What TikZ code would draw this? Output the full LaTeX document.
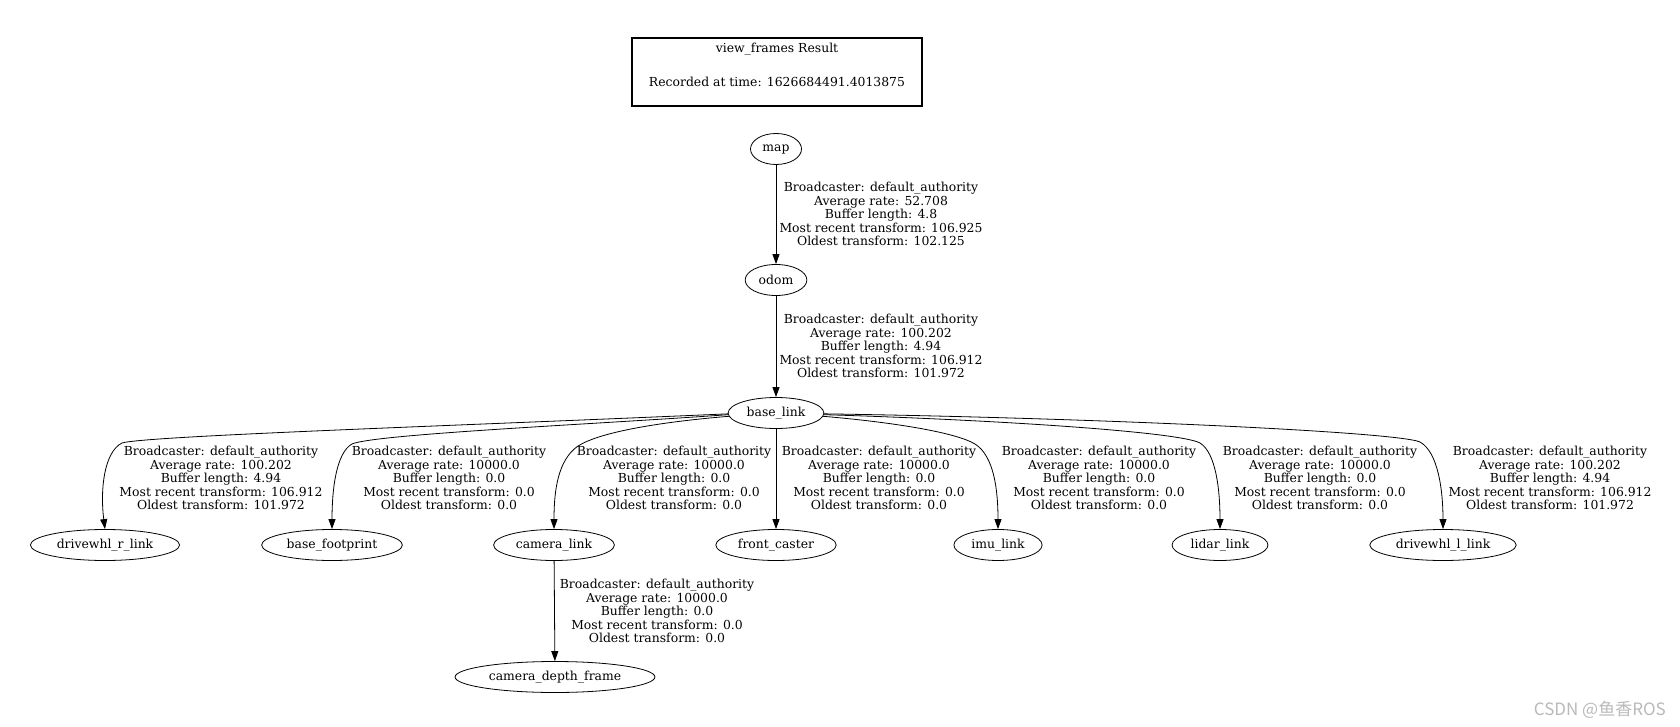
\documentclass[tikz,border=0pt]{standalone}
\usepackage{fontspec}
\setmainfont{DejaVu Serif}
\newfontfamily\cjkfont{Noto Sans CJK SC}
\usetikzlibrary{arrows.meta,shapes.geometric}

\newcommand{\tflabel}[4]{Broadcaster: default\_authority\\Average rate: #1\\Buffer length: #2\\Most recent transform: #3\\Oldest transform: #4}

\begin{document}
\begin{tikzpicture}[
  x=1pt, y=-1pt,
  font=\fontsize{12.4}{13.4}\selectfont,
  >={Triangle[length=10pt,width=7pt]},
  tfframe/.style={ellipse, draw=black, line width=0.8pt, inner xsep=4.5pt, inner ysep=1pt, minimum height=31pt},
  tfedge/.style={->, draw=black, line width=0.8pt},
  tfinfo/.style={align=center, inner sep=0pt}
]
  \useasboundingbox (0,0) rectangle (1680,727);
  % header box
  \node[draw=black, line width=1.4pt, minimum width=290pt, minimum height=68pt] (result) at (777,72) {};
  \node[align=center, inner sep=0pt] (result_text) at (777,65) {view\_frames Result\\[21pt]Recorded at time: 1626684491.4013875};
  % frames
  \node[tfframe] (map) at (776,149) {map};
  \node[tfframe] (odom) at (776,280) {odom};
  \node[tfframe] (base_link) at (776,413) {base\_link};
  \node[tfframe] (drivewhl_r) at (105,545) {drivewhl\_r\_link};
  \node[tfframe] (base_footprint) at (332,545) {base\_footprint};
  \node[tfframe] (camera_link) at (554,545) {camera\_link};
  \node[tfframe] (front_caster) at (776,545) {front\_caster};
  \node[tfframe] (imu_link) at (998,545) {imu\_link};
  \node[tfframe] (lidar_link) at (1220,545) {lidar\_link};
  \node[tfframe] (drivewhl_l) at (1443,545) {drivewhl\_l\_link};
  \node[tfframe] (camera_depth) at (555,677) {camera\_depth\_frame};
  % transforms
  \draw[tfedge] (map) -- (odom);
  \draw[tfedge] (odom) -- (base_link);
  \draw[tfedge] (base_link) -- (front_caster);
  \draw[tfedge] (camera_link) -- (camera_depth);
  \draw[tfedge] (base_link.181) .. controls (450,426) and (145,436) .. (122,443) .. controls (104,452) and (100,490) .. (drivewhl_r.north);
  \draw[tfedge] (base_link.182) .. controls (600,424) and (375,434) .. (352,444) .. controls (336,453) and (332,490) .. (base_footprint.north);
  \draw[tfedge] (base_link.184) .. controls (660,422) and (600,432) .. (578,446) .. controls (558,460) and (554,490) .. (camera_link.north);
  \draw[tfedge] (base_link.356) .. controls (890,422) and (955,432) .. (975,444) .. controls (994,456) and (998,490) .. (imu_link.north);
  \draw[tfedge] (base_link.358) .. controls (1000,420) and (1180,432) .. (1200,443) .. controls (1216,453) and (1220,490) .. (lidar_link.north);
  \draw[tfedge] (base_link.359) .. controls (1100,418) and (1398,432) .. (1420,442) .. controls (1438,452) and (1443,490) .. (drivewhl_l.north);
  % transform data
  \node[tfinfo] (info_odom) at (881,214) {\tflabel{52.708}{4.8}{106.925}{102.125}};
  \node[tfinfo] (info_base) at (881,346) {\tflabel{100.202}{4.94}{106.912}{101.972}};
  \node[tfinfo] (info_whr) at (221,478) {\tflabel{100.202}{4.94}{106.912}{101.972}};
  \node[tfinfo] (info_foot) at (449,478) {\tflabel{10000.0}{0.0}{0.0}{0.0}};
  \node[tfinfo] (info_cam) at (674,478) {\tflabel{10000.0}{0.0}{0.0}{0.0}};
  \node[tfinfo] (info_caster) at (879,478) {\tflabel{10000.0}{0.0}{0.0}{0.0}};
  \node[tfinfo] (info_imu) at (1099,478) {\tflabel{10000.0}{0.0}{0.0}{0.0}};
  \node[tfinfo] (info_lidar) at (1320,478) {\tflabel{10000.0}{0.0}{0.0}{0.0}};
  \node[tfinfo] (info_whl) at (1550,478) {\tflabel{100.202}{4.94}{106.912}{101.972}};
  \node[tfinfo] (info_depth) at (657,611) {\tflabel{10000.0}{0.0}{0.0}{0.0}};
  % watermark
  \node[anchor=east, inner sep=0pt, text=gray!55, font=\cjkfont\fontsize{17}{17}\selectfont] (mark) at (1666,710) {CSDN @鱼香ROS};
\end{tikzpicture}
\end{document}
